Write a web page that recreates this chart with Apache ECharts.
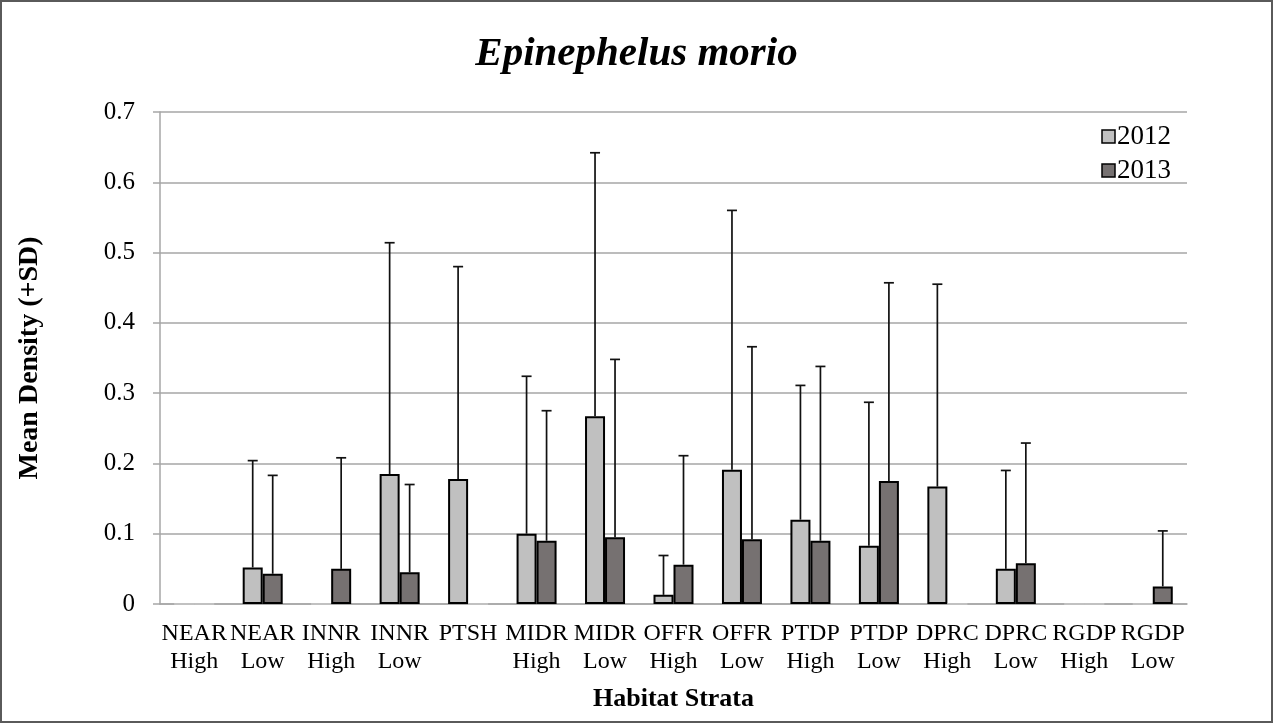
<!DOCTYPE html>
<html>
<head>
<meta charset="utf-8">
<script src="https://cdn.jsdelivr.net/npm/echarts@6/dist/echarts.min.js"></script>
<style>
  html, body { margin: 0; padding: 0; background: #fff; }
  #main { width: 1273px; height: 723px; }
</style>
</head>
<body>
<div id="main"></div>
<script>
// 数据
const strata = ['NEAR\nHigh', 'NEAR\nLow', 'INNR\nHigh', 'INNR\nLow', 'PTSH',
  'MIDR\nHigh', 'MIDR\nLow', 'OFFR\nHigh', 'OFFR\nLow', 'PTDP\nHigh',
  'PTDP\nLow', 'DPRC\nHigh', 'DPRC\nLow', 'RGDP\nHigh', 'RGDP\nLow'];
const mean2012 = [0, 0.052, 0, 0.185, 0.178, 0.100, 0.267, 0.013, 0.191, 0.120, 0.083, 0.167, 0.050, 0, 0];
const sd2012 = [0, 0.152, 0, 0.329, 0.302, 0.224, 0.375, 0.056, 0.369, 0.191, 0.204, 0.288, 0.140, 0, 0];
const mean2013 = [0, 0.043, 0.050, 0.045, 0, 0.090, 0.095, 0.056, 0.092, 0.090, 0.175, 0, 0.058, 0, 0.025];
const sd2013 = [0, 0.140, 0.158, 0.125, 0, 0.185, 0.253, 0.155, 0.274, 0.248, 0.282, 0, 0.171, 0, 0.079];
const yTicks = { min: 0, max: 0.7, interval: 0.1 };

const FONT = "'Liberation Serif', 'Times New Roman', serif";
const BAR_W = 20;

// 柱子，零值画成浅灰细线
const barData = function (vals) {
  return vals.map(v => v === 0
    ? { value: 0, itemStyle: { borderColor: '#c8c8c8', borderWidth: 1 } }
    : v);
}

// 误差线（只画 +SD）
const errorSeries = function (name, means, sds, offset) {
  return {
    type: 'custom',
    name: name,
    z: 3,
    silent: true,
    data: means.map((m, i) => [i, m, sds[i]]),
    encode: { x: 0, y: 1 },
    renderItem: function (params, api) {
      const sd = api.value(2);
      if (!sd) return null;
      const base = api.coord([api.value(0), api.value(1)]);
      const top = api.coord([api.value(0), api.value(1) + sd]);
      const x = base[0] + offset;
      const style = { stroke: '#111', lineWidth: 1.7 };
      return {
        type: 'group',
        children: [
          { type: 'line', shape: { x1: x, y1: base[1], x2: x, y2: top[1] }, style: style },
          { type: 'line', shape: { x1: x - 5, y1: top[1], x2: x + 5, y2: top[1] }, style: style }
        ]
      };
    }
  };
}

const chart = echarts.init(document.getElementById('main'));
chart.setOption({
  animation: false,
  backgroundColor: '#fff',
  graphic: [{
    type: 'rect',
    shape: { x: 1, y: 1, width: 1271, height: 721 },
    style: { fill: 'none', stroke: '#5a5a5a', lineWidth: 2 },
    silent: true
  }],
  title: {
    text: 'Epinephelus morio',
    left: 'center',
    top: 29,
    textStyle: { fontFamily: FONT, fontSize: 41, fontWeight: 'bold', fontStyle: 'italic', color: '#000' }
  },
  legend: {
    data: ['2012', '2013'],
    orient: 'vertical',
    right: 97,
    top: 118,
    icon: 'rect',
    itemWidth: 13,
    itemHeight: 13,
    itemGap: 7,
    itemStyle: { borderColor: '#000', borderWidth: 1.5 },
    textStyle: { fontFamily: FONT, fontSize: 27, color: '#000', padding: [0, 0, 0, -3] }
  },
  grid: { left: 160, right: 86, top: 112, bottom: 119 },
  xAxis: {
    type: 'category',
    data: strata,
    name: 'Habitat Strata',
    nameLocation: 'middle',
    nameGap: 82,
    nameTextStyle: { fontFamily: FONT, fontSize: 26, fontWeight: 'bold', color: '#000' },
    axisLine: { lineStyle: { color: '#a6a6a6', width: 1.5 } },
    axisTick: { length: 7, lineStyle: { color: '#a6a6a6', width: 1.5 } },
    axisLabel: { fontFamily: FONT, fontSize: 24, color: '#000', lineHeight: 28, margin: 16, interval: 0 }
  },
  yAxis: {
    type: 'value',
    min: yTicks.min,
    max: yTicks.max,
    interval: yTicks.interval,
    name: 'Mean Density (+SD)',
    nameLocation: 'middle',
    nameGap: 116,
    nameTextStyle: { fontFamily: FONT, fontSize: 28, fontWeight: 'bold', color: '#000' },
    axisLine: { show: true, lineStyle: { color: '#a6a6a6', width: 1.5 } },
    axisTick: { show: true, length: 7, lineStyle: { color: '#a6a6a6', width: 1.5 } },
    splitLine: { lineStyle: { color: '#a6a6a6', width: 1.5 } },
    axisLabel: { fontFamily: FONT, fontSize: 25, color: '#000', margin: 25 }
  },
  series: [
    {
      name: '2012',
      type: 'bar',
      barWidth: BAR_W,
      barGap: '0%',
      data: barData(mean2012),
      itemStyle: { color: '#c0c0c0', borderColor: '#000', borderWidth: 2 }
    },
    {
      name: '2013',
      type: 'bar',
      barWidth: BAR_W,
      barGap: '0%',
      data: barData(mean2013),
      itemStyle: { color: '#767171', borderColor: '#000', borderWidth: 2 }
    },
    errorSeries('err2012', mean2012, sd2012, -BAR_W / 2),
    errorSeries('err2013', mean2013, sd2013, BAR_W / 2)
  ]
});
</script>
</body>
</html>
